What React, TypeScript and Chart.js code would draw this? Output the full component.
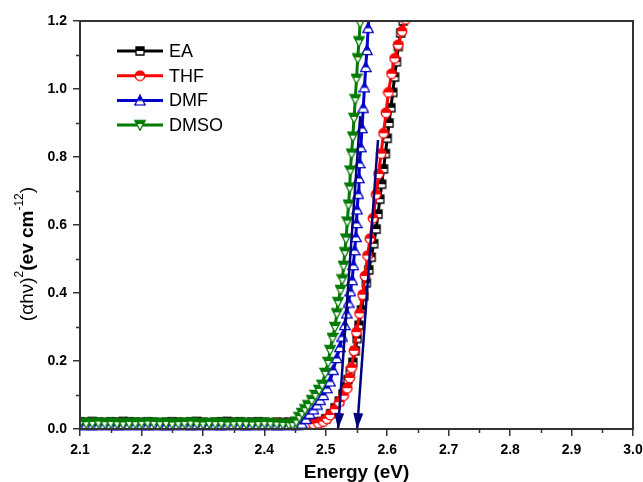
import React, { useEffect, useRef } from "react";
import { Chart, registerables } from "chart.js";
Chart.register(...registerables);

const seriesNames = ["EA", "THF", "DMF", "DMSO"];
const seriesColors = ["#000000", "#ff0000", "#0000c8", "#007a00"];
const seriesShapes = ["square", "circle", "up", "down"];
const fitColor = "#00007a";

const xMin = 2.1, xMax = 3.0, xStep = 0.1;
const yMin = 0, yMax = 1.2, yStep = 0.2;
const xTitle = "Energy (eV)";

const flatEnergy = [2.10,2.11,2.12,2.13,2.14,2.15,2.16,2.17,2.18,2.19,2.20,2.21,2.22,2.23,2.24,2.25,2.26,2.27,2.28,2.29,2.30,2.31,2.32,2.33,2.34,2.35,2.36,2.37,2.38,2.39,2.40,2.41,2.42,2.43,2.44];
const eaFlat = [0.021,0.020,0.022,0.020,0.019,0.021,0.020,0.022,0.021,0.020,0.019,0.021,0.020,0.018,0.020,0.021,0.020,0.019,0.021,0.022,0.020,0.018,0.020,0.021,0.022,0.020,0.021,0.019,0.020,0.021,0.020,0.018,0.020,0.019,0.020];
const thfFlat = [0.016,0.015,0.017,0.016,0.015,0.016,0.017,0.015,0.016,0.015,0.016,0.017,0.016,0.015,0.014,0.016,0.015,0.016,0.017,0.016,0.015,0.016,0.015,0.014,0.016,0.017,0.015,0.016,0.015,0.016,0.015,0.016,0.017,0.015,0.016];
const dmfFlat = [0.012,0.013,0.011,0.012,0.013,0.012,0.011,0.012,0.013,0.012,0.012,0.011,0.013,0.012,0.011,0.012,0.013,0.012,0.011,0.012,0.013,0.012,0.012,0.011,0.012,0.013,0.012,0.011,0.012,0.012,0.013,0.012,0.011,0.012,0.012];
const dmsoFlat = [0.018,0.017,0.018,0.019,0.017,0.018,0.017,0.016,0.018,0.017,0.018,0.019,0.018,0.017,0.018,0.016,0.017,0.018,0.019,0.017,0.016,0.018,0.017,0.018,0.016,0.017,0.018,0.017,0.016,0.017,0.018,0.017,0.016,0.015,0.014];

const eaRiseEnergy = [2.450,2.460,2.470,2.478,2.486,2.492,2.500,2.508,2.515,2.522,2.528,2.532,2.536,2.540,2.544,2.548,2.551,2.554,2.558,2.562,2.566,2.570,2.574,2.578,2.582,2.585,2.588,2.591,2.594,2.597,2.600,2.603,2.606,2.609,2.612,2.615,2.618,2.622,2.626,2.632];
const eaRiseValue = [0.020,0.019,0.021,0.020,0.018,0.022,0.030,0.045,0.062,0.082,0.103,0.123,0.145,0.170,0.196,0.230,0.266,0.305,0.350,0.392,0.430,0.468,0.505,0.545,0.588,0.632,0.676,0.720,0.765,0.810,0.855,0.900,0.945,0.990,1.035,1.080,1.125,1.165,1.200,1.250];

const thfRiseEnergy = [2.450,2.460,2.470,2.480,2.488,2.496,2.502,2.507,2.515,2.522,2.529,2.535,2.539,2.542,2.546,2.550,2.555,2.560,2.564,2.568,2.572,2.577,2.582,2.586,2.590,2.594,2.598,2.602,2.607,2.612,2.618,2.624,2.630,2.636];
const thfRiseValue = [0.016,0.015,0.016,0.015,0.017,0.022,0.030,0.041,0.058,0.079,0.098,0.120,0.150,0.180,0.230,0.285,0.340,0.395,0.450,0.510,0.560,0.620,0.690,0.750,0.810,0.870,0.930,0.990,1.045,1.090,1.130,1.170,1.205,1.240];

const dmfRiseEnergy = [2.450,2.455,2.461,2.468,2.474,2.480,2.486,2.491,2.496,2.502,2.507,2.512,2.518,2.523,2.527,2.531,2.534,2.537,2.540,2.543,2.545,2.547,2.549,2.550,2.551,2.553,2.554,2.555,2.557,2.559,2.561,2.563,2.565,2.567,2.569,2.572];
const dmfRiseValue = [0.012,0.013,0.016,0.030,0.045,0.058,0.072,0.086,0.100,0.120,0.140,0.174,0.209,0.241,0.272,0.306,0.340,0.372,0.405,0.438,0.482,0.526,0.565,0.606,0.646,0.692,0.738,0.782,0.829,0.885,0.945,1.005,1.065,1.115,1.180,1.250];

const dmsoRiseEnergy = [2.446,2.452,2.457,2.461,2.466,2.471,2.477,2.483,2.489,2.494,2.499,2.504,2.507,2.511,2.515,2.518,2.520,2.524,2.527,2.529,2.531,2.533,2.535,2.537,2.539,2.540,2.542,2.544,2.546,2.548,2.550,2.552,2.554,2.556,2.558];
const dmsoRiseValue = [0.014,0.022,0.035,0.047,0.058,0.070,0.085,0.100,0.115,0.130,0.165,0.197,0.232,0.268,0.300,0.340,0.373,0.409,0.440,0.480,0.520,0.560,0.610,0.660,0.710,0.760,0.810,0.860,0.915,0.970,1.030,1.090,1.140,1.195,1.250];

const fitLeftEnergy = [2.556, 2.520];
const fitLeftValue = [0.92, 0.0];
const fitRightEnergy = [2.585, 2.551];
const fitRightValue = [0.85, 0.0];

const FONT = "'Liberation Sans', Arial, Helvetica, sans-serif";

function toPoints(e1: number[], v1: number[], e2: number[], v2: number[]) {
  const a = e1.map((e, i) => ({ x: e, y: v1[i] }));
  const b = e2.map((e, i) => ({ x: e, y: v2[i] }));
  return a.concat(b);
}

function makeMarker(shape: string, color: string): HTMLCanvasElement {
  const s = 12;
  const c = document.createElement("canvas");
  c.width = s;
  c.height = s;
  const g = c.getContext("2d")!;
  const p = new Path2D();
  const m = s / 2;
  let cut = m;
  if (shape === "square") {
    p.rect(2, 2, 8, 8);
  } else if (shape === "circle") {
    p.arc(m, m, 4.8, 0, Math.PI * 2);
  } else if (shape === "up") {
    p.moveTo(m, 0.8);
    p.lineTo(11.2, 10.6);
    p.lineTo(0.8, 10.6);
    p.closePath();
    cut = 6.5;
  } else {
    p.moveTo(0.8, 1.4);
    p.lineTo(11.2, 1.4);
    p.lineTo(m, 11.2);
    p.closePath();
    cut = 5;
  }
  g.fillStyle = "#ffffff";
  g.fill(p);
  g.save();
  g.clip(p);
  g.fillStyle = color;
  g.fillRect(0, 0, s, cut);
  g.restore();
  g.strokeStyle = color;
  g.lineWidth = 1.3;
  g.stroke(p);
  return c;
}

const decorPlugin = {
  id: "decor",
  afterDatasetsDraw(chart: any) {
    const ctx = chart.ctx;
    chart.data.datasets.forEach((ds: any, i: number) => {
      if (!ds.isArrow) return;
      const pts = chart.getDatasetMeta(i).data;
      const tip = pts[pts.length - 1];
      const prev = pts[pts.length - 2];
      const ang = Math.atan2(tip.y - prev.y, tip.x - prev.x);
      const L = 16, W = 5;
      const bx = tip.x - L * Math.cos(ang), by = tip.y - L * Math.sin(ang);
      ctx.save();
      ctx.fillStyle = ds.borderColor;
      ctx.beginPath();
      ctx.moveTo(tip.x, tip.y);
      ctx.lineTo(bx + W * Math.sin(ang), by - W * Math.cos(ang));
      ctx.lineTo(bx - W * Math.sin(ang), by + W * Math.cos(ang));
      ctx.closePath();
      ctx.fill();
      ctx.restore();
    });
  },
  afterDraw(chart: any) {
    const ctx = chart.ctx;
    const a = chart.chartArea;
    const xs = chart.scales.x, ys = chart.scales.y;
    ctx.save();
    // frame
    ctx.strokeStyle = "#333333";
    ctx.lineWidth = 2;
    ctx.strokeRect(a.left, a.top, a.right - a.left, a.bottom - a.top);
    // minor ticks
    ctx.lineWidth = 1.5;
    ctx.beginPath();
    for (let v = xMin + xStep / 2; v < xMax; v += xStep) {
      const px = Math.round(xs.getPixelForValue(v)) + 0.5;
      ctx.moveTo(px, a.bottom);
      ctx.lineTo(px, a.bottom + 4);
    }
    for (let v = yMin + yStep / 2; v < yMax; v += yStep) {
      const py = Math.round(ys.getPixelForValue(v)) + 0.5;
      ctx.moveTo(a.left, py);
      ctx.lineTo(a.left - 4, py);
    }
    ctx.stroke();
    // legend
    const ly0 = 51, ldy = 24.7;
    seriesNames.forEach((name, i) => {
      const yy = ly0 + i * ldy;
      ctx.strokeStyle = seriesColors[i];
      ctx.lineWidth = 3;
      ctx.beginPath();
      ctx.moveTo(117, yy);
      ctx.lineTo(163, yy);
      ctx.stroke();
      const img = chart.data.datasets[i].pointStyle;
      ctx.drawImage(img, 140 - img.width / 2, yy - img.height / 2);
      ctx.fillStyle = "#000000";
      ctx.font = `18px ${FONT}`;
      ctx.textAlign = "left";
      ctx.textBaseline = "middle";
      ctx.fillText(name, 169, yy + 1);
    });
    // x title
    ctx.fillStyle = "#000000";
    ctx.font = `bold 19px ${FONT}`;
    ctx.textAlign = "center";
    ctx.textBaseline = "alphabetic";
    ctx.fillText(xTitle, (a.left + a.right) / 2, 478);
    // y title with superscripts
    const segs = [
      { t: "(\u03b1h\u03bd)", f: `19px ${FONT}`, dy: 0 },
      { t: "2", f: `12px ${FONT}`, dy: -8 },
      { t: "(ev cm", f: `bold 19px ${FONT}`, dy: 0 },
      { t: "-12", f: `12px ${FONT}`, dy: -8 },
      { t: ")", f: `19px ${FONT}`, dy: 0 },
    ];
    let total = 0;
    const widths = segs.map((s) => {
      ctx.font = s.f;
      const w = ctx.measureText(s.t).width;
      total += w;
      return w;
    });
    ctx.translate(27, 254);
    ctx.rotate(-Math.PI / 2);
    ctx.textAlign = "left";
    ctx.textBaseline = "middle";
    let cx = -total / 2;
    segs.forEach((s, i) => {
      ctx.font = s.f;
      ctx.fillText(s.t, cx, s.dy + 1);
      cx += widths[i];
    });
    ctx.restore();
  },
};

export default function App() {
  const ref = useRef<HTMLCanvasElement>(null);
  useEffect(() => {
    document.body.style.margin = "0";
    const markers = seriesShapes.map((s, i) => makeMarker(s, seriesColors[i]));
    const seriesData = [
      toPoints(flatEnergy, eaFlat, eaRiseEnergy, eaRiseValue),
      toPoints(flatEnergy, thfFlat, thfRiseEnergy, thfRiseValue),
      toPoints(flatEnergy, dmfFlat, dmfRiseEnergy, dmfRiseValue),
      toPoints(flatEnergy, dmsoFlat, dmsoRiseEnergy, dmsoRiseValue),
    ];
    const drawOrder = [4, 3, 2, 1];
    const datasets: any[] = seriesNames.map((name, i) => ({
      label: name,
      data: seriesData[i],
      borderColor: seriesColors[i],
      backgroundColor: seriesColors[i],
      borderWidth: 3,
      pointStyle: markers[i],
      pointRadius: 5,
      tension: 0,
      order: drawOrder[i],
      clip: { left: 0, right: 0, top: 0, bottom: 6 },
    }));
    [
      [fitLeftEnergy, fitLeftValue],
      [fitRightEnergy, fitRightValue],
    ].forEach(([e, v], k) => {
      datasets.push({
        label: "fit" + k,
        data: e.map((x, i) => ({ x, y: v[i] })),
        borderColor: fitColor,
        borderWidth: 2.5,
        pointRadius: 0,
        tension: 0,
        order: 0,
        isArrow: true,
        clip: 10,
      });
    });
    const tickFont = { family: FONT, size: 14, weight: "bold" as const };
    const chart = new Chart(ref.current!, {
      type: "line",
      data: { datasets },
      plugins: [decorPlugin],
      options: {
        animation: false,
        responsive: false,
        layout: { padding: { top: 21, right: 10, left: 0, bottom: 0 } },
        plugins: { legend: { display: false }, tooltip: { enabled: false } },
        scales: {
          x: {
            type: "linear",
            min: xMin,
            max: xMax,
            afterFit: (s: any) => { s.height = 53; s.paddingRight = 0; s.paddingLeft = 0; },
            ticks: {
              stepSize: xStep,
              color: "#000000",
              font: tickFont,
              padding: 6,
              maxRotation: 0,
              callback: (v: any) => Number(v).toFixed(1),
            },
            grid: { display: true, drawOnChartArea: false, tickLength: 7, color: "#333333", lineWidth: 1.5 },
            border: { display: false },
          },
          y: {
            type: "linear",
            min: yMin,
            max: yMax,
            afterFit: (s: any) => { s.width = 80; s.paddingTop = 0; s.paddingBottom = 0; },
            ticks: {
              stepSize: yStep,
              color: "#000000",
              font: tickFont,
              padding: 6,
              callback: (v: any) => Number(v).toFixed(1),
            },
            grid: { display: true, drawOnChartArea: false, tickLength: 7, color: "#333333", lineWidth: 1.5 },
            border: { display: false },
          },
        },
      } as any,
    });
    return () => chart.destroy();
  }, []);
  return (
    <div style={{ width: 643, height: 482 }}>
      <canvas ref={ref} width={643} height={482} style={{ display: "block" }} />
    </div>
  );
}
